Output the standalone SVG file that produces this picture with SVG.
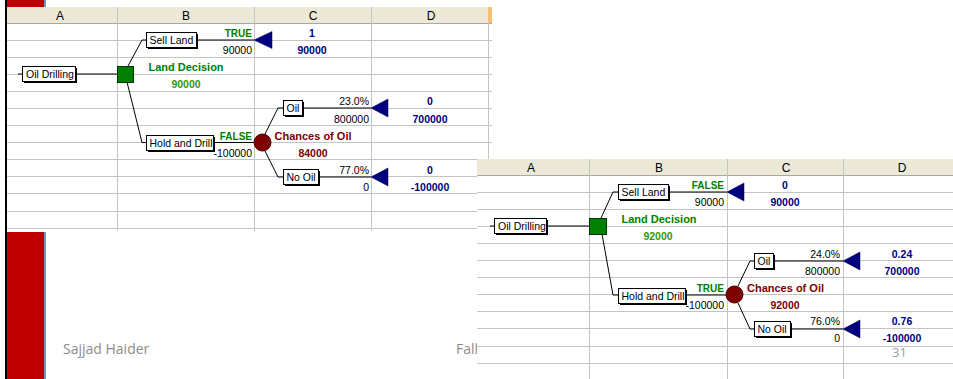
<svg xmlns="http://www.w3.org/2000/svg" width="953" height="379" viewBox="0 0 953 379">
<style>
text{font-family:"Liberation Sans",Arial,sans-serif;}
.hdr{fill:#ECE9D8;}
.hl{stroke:#ACA899;stroke-width:1;}
.g{stroke:#C4C4C4;stroke-width:1;fill:none;}
.hd{font-size:12px;fill:#000;text-anchor:middle;}
.c{stroke:#000;stroke-width:1;fill:none;}
.bx{fill:#fff;stroke:#000;stroke-width:1;}
.sh{fill:#000;}
.bt{font-size:10.5px;fill:#000;}
.val{font-size:10.5px;fill:#000;text-anchor:end;}
.tf{font-size:10px;font-weight:bold;fill:#008000;text-anchor:end;}
.dec{font-size:11px;font-weight:bold;fill:#008000;text-anchor:middle;}
.decv{font-size:10.5px;font-weight:bold;fill:#339900;text-anchor:middle;}
.cha{font-size:11px;font-weight:bold;fill:#800000;text-anchor:middle;}
.nv{font-size:10.5px;font-weight:bold;fill:#000080;text-anchor:middle;}
.tri{fill:#000080;stroke:#000040;stroke-width:0.5;}
.sq{fill:#008000;stroke:#003300;stroke-width:1;}
.ci{fill:#800000;stroke:#400000;stroke-width:1;}
.ft{font-family:"Open Sans","Liberation Sans",sans-serif;font-size:14px;fill:#8C8C8C;}
</style>
<rect width="953" height="379" fill="#fff"/>

<g id="sheet1">
  <rect x="5" y="0" width="2" height="379" fill="#000"/>
  <rect x="7" y="0" width="37" height="7" fill="#C00000"/>
  <rect x="44" y="0" width="2" height="7" fill="#7F93B8"/>
  <rect x="7" y="232" width="37" height="147" fill="#C00000"/>
  <rect x="44" y="232" width="2" height="147" fill="#7F93B8"/>
  <rect class="hdr" x="7" y="7" width="481" height="16"/>
  <rect x="488" y="7" width="4" height="16" fill="#F8C070"/>
  <line class="hl" x1="7" y1="23.5" x2="492" y2="23.5"/>
  <g class="g">
    <path d="M117.5 7V231M254.5 7V231M371.5 7V231M488.5 23V231"/>
    <path d="M7 40.5H492M7 57.5H492M7 74.5H492M7 91.5H492M7 108.5H492M7 125.5H492M7 142.5H492M7 159.5H492M7 176.5H492M7 193.5H492M7 211.5H492M7 228.5H492"/>
  </g>
  <text class="hd" x="60" y="19.5">A</text>
  <text class="hd" x="186" y="19.5">B</text>
  <text class="hd" x="313" y="19.5">C</text>
  <text class="hd" x="431" y="19.5">D</text>
</g>

<g id="connectors1">
  <line class="c" x1="18" y1="74" x2="22" y2="74"/>
  <line class="c" x1="76" y1="74" x2="117" y2="74"/>
  <polyline class="c" points="128,66 142,40 146,40"/>
  <line class="c" x1="197" y1="40" x2="254" y2="40"/>
  <polyline class="c" points="127,82 142,142.5 146,142.5"/>
  <line class="c" x1="214" y1="142.5" x2="254" y2="142.5"/>
  <polyline class="c" points="265,134 278,108 283,108"/>
  <line class="c" x1="302" y1="108" x2="371" y2="108"/>
  <polyline class="c" points="265,151 278,177 283,177"/>
  <line class="c" x1="318" y1="177" x2="371" y2="177"/>
</g>

<g id="labels1">
  <text class="tf" x="252" y="37">TRUE</text>
  <text class="val" x="252" y="54">90000</text>
  <text class="nv" x="312" y="37">1</text>
  <text class="nv" x="312" y="54">90000</text>
  <text class="dec" x="186" y="71">Land Decision</text>
  <text class="decv" x="186" y="88">90000</text>
  <text class="tf" x="252" y="140">FALSE</text>
  <text class="val" x="252" y="157">-100000</text>
  <text class="cha" x="313" y="140">Chances of Oil</text>
  <text class="cha" x="313" y="157" style="font-size:10.5px">84000</text>
  <text class="val" x="369" y="105">23.0%</text>
  <text class="val" x="369" y="122.5">800000</text>
  <text class="nv" x="430" y="105">0</text>
  <text class="nv" x="430" y="122.5">700000</text>
  <text class="val" x="369" y="173.5">77.0%</text>
  <text class="val" x="369" y="191">0</text>
  <text class="nv" x="430" y="173.5">0</text>
  <text class="nv" x="430" y="191">-100000</text>
</g>

<g id="oil-drilling-1"><rect class="sh" x="24" y="68" width="53" height="15"/><rect class="bx" x="22.5" y="66.5" width="53" height="15"/><text class="bt" x="26" y="77.5">Oil Drilling</text></g>
<g id="land-decision-1"><rect class="sq" x="117.5" y="66.5" width="16" height="16"/></g>
<g id="sell-land-1"><rect class="sh" x="148" y="34" width="50" height="15"/><rect class="bx" x="146.5" y="32.5" width="50" height="15"/><text class="bt" x="149.5" y="43.5">Sell Land</text></g>
<g id="sell-land-end-1"><polygon class="tri" points="254,40 272,31.5 272,48.5"/></g>
<g id="hold-drill-1"><rect class="sh" x="148" y="137" width="67" height="15"/><rect class="bx" x="146.5" y="135.5" width="67" height="15"/><text class="bt" x="149.5" y="146.5">Hold and Drill</text></g>
<g id="chances-1"><circle class="ci" cx="262.5" cy="142.5" r="8.5"/></g>
<g id="oil-1"><rect class="sh" x="285" y="102" width="19" height="15"/><rect class="bx" x="283.5" y="100.5" width="19" height="15"/><text class="bt" x="286.5" y="111.5">Oil</text></g>
<g id="oil-end-1"><polygon class="tri" points="371,108 388,99 388,117"/></g>
<g id="nooil-1"><rect class="sh" x="285" y="171" width="35" height="15"/><rect class="bx" x="283.5" y="169.5" width="35" height="15"/><text class="bt" x="286.5" y="180.5">No Oil</text></g>
<g id="nooil-end-1"><polygon class="tri" points="371,177 388,168 388,186"/></g>

<g id="footer">
  <text class="ft" x="63" y="354">Sajjad Haider</text>
  <text class="ft" x="456" y="354">Fall</text>
</g>

<g id="sheet2">
  <rect x="477" y="159" width="476" height="220" fill="#fff"/>
  <rect class="hdr" x="477" y="159" width="476" height="16"/>
  <line class="hl" x1="477" y1="175.5" x2="953" y2="175.5"/>
  <g class="g">
    <path d="M589.5 159V379M727.5 159V379M843.5 159V379"/>
    <path d="M477 192.5H953M477 209.5H953M477 226.5H953M477 243.5H953M477 260.5H953M477 277.5H953M477 294.5H953M477 311.5H953M477 328.5H953M477 346.5H953M477 363.5H953"/>
  </g>
  <text class="hd" x="531" y="172">A</text>
  <text class="hd" x="659" y="172">B</text>
  <text class="hd" x="786" y="172">C</text>
  <text class="hd" x="902" y="172">D</text>
</g>

<g id="connectors2">
  <line class="c" x1="490" y1="226" x2="494" y2="226"/>
  <line class="c" x1="546" y1="226" x2="589" y2="226"/>
  <polyline class="c" points="601,218 613,192 618,192"/>
  <line class="c" x1="668" y1="192" x2="727" y2="192"/>
  <polyline class="c" points="602,234 613,295 618,295"/>
  <line class="c" x1="685" y1="295" x2="726" y2="295"/>
  <polyline class="c" points="738,286 750,261 754,261"/>
  <line class="c" x1="773" y1="261" x2="843" y2="261"/>
  <polyline class="c" points="738,303 750,329 754,329"/>
  <line class="c" x1="790" y1="329" x2="843" y2="329"/>
</g>

<g id="labels2">
  <text class="tf" x="724" y="189">FALSE</text>
  <text class="val" x="724" y="206">90000</text>
  <text class="nv" x="785" y="189">0</text>
  <text class="nv" x="785" y="206">90000</text>
  <text class="dec" x="659" y="223">Land Decision</text>
  <text class="decv" x="658" y="240">92000</text>
  <text class="tf" x="724" y="292">TRUE</text>
  <text class="val" x="724" y="309">-100000</text>
  <text class="cha" x="785.5" y="292">Chances of Oil</text>
  <text class="cha" x="785" y="309" style="font-size:10.5px">92000</text>
  <text class="val" x="840" y="258">24.0%</text>
  <text class="val" x="840" y="275">800000</text>
  <text class="nv" x="902" y="258">0.24</text>
  <text class="nv" x="902" y="275">700000</text>
  <text class="val" x="840" y="325">76.0%</text>
  <text class="val" x="840" y="342">0</text>
  <text class="nv" x="902" y="325">0.76</text>
  <text class="nv" x="902" y="342">-100000</text>
</g>

<g id="oil-drilling-2"><rect class="sh" x="496" y="220" width="52" height="15"/><rect class="bx" x="494.5" y="218.5" width="52" height="15"/><text class="bt" x="498" y="229.5">Oil Drilling</text></g>
<g id="land-decision-2"><rect class="sq" x="589.5" y="218.5" width="17" height="16"/></g>
<g id="sell-land-2"><rect class="sh" x="620" y="186" width="50" height="15"/><rect class="bx" x="618.5" y="184.5" width="50" height="15"/><text class="bt" x="621.5" y="195.5">Sell Land</text></g>
<g id="sell-land-end-2"><polygon class="tri" points="727,192 744,183 744,201"/></g>
<g id="hold-drill-2"><rect class="sh" x="620" y="290" width="67" height="15"/><rect class="bx" x="618.5" y="288.5" width="67" height="15"/><text class="bt" x="621.5" y="299.5">Hold and Drill</text></g>
<g id="chances-2"><circle class="ci" cx="734.5" cy="294.5" r="8.5"/></g>
<g id="oil-2"><rect class="sh" x="756" y="255" width="19" height="15"/><rect class="bx" x="754.5" y="253.5" width="19" height="15"/><text class="bt" x="757.5" y="264.5">Oil</text></g>
<g id="oil-end-2"><polygon class="tri" points="843,261 860,252 860,270"/></g>
<g id="nooil-2"><rect class="sh" x="756" y="323" width="36" height="15"/><rect class="bx" x="754.5" y="321.5" width="36" height="15"/><text class="bt" x="757.5" y="332.5">No Oil</text></g>
<g id="nooil-end-2"><polygon class="tri" points="843,329 860,320 860,338"/></g>

<text class="ft" x="892" y="357" style="fill:#A0A0A0;font-size:13px">31</text>
</svg>
